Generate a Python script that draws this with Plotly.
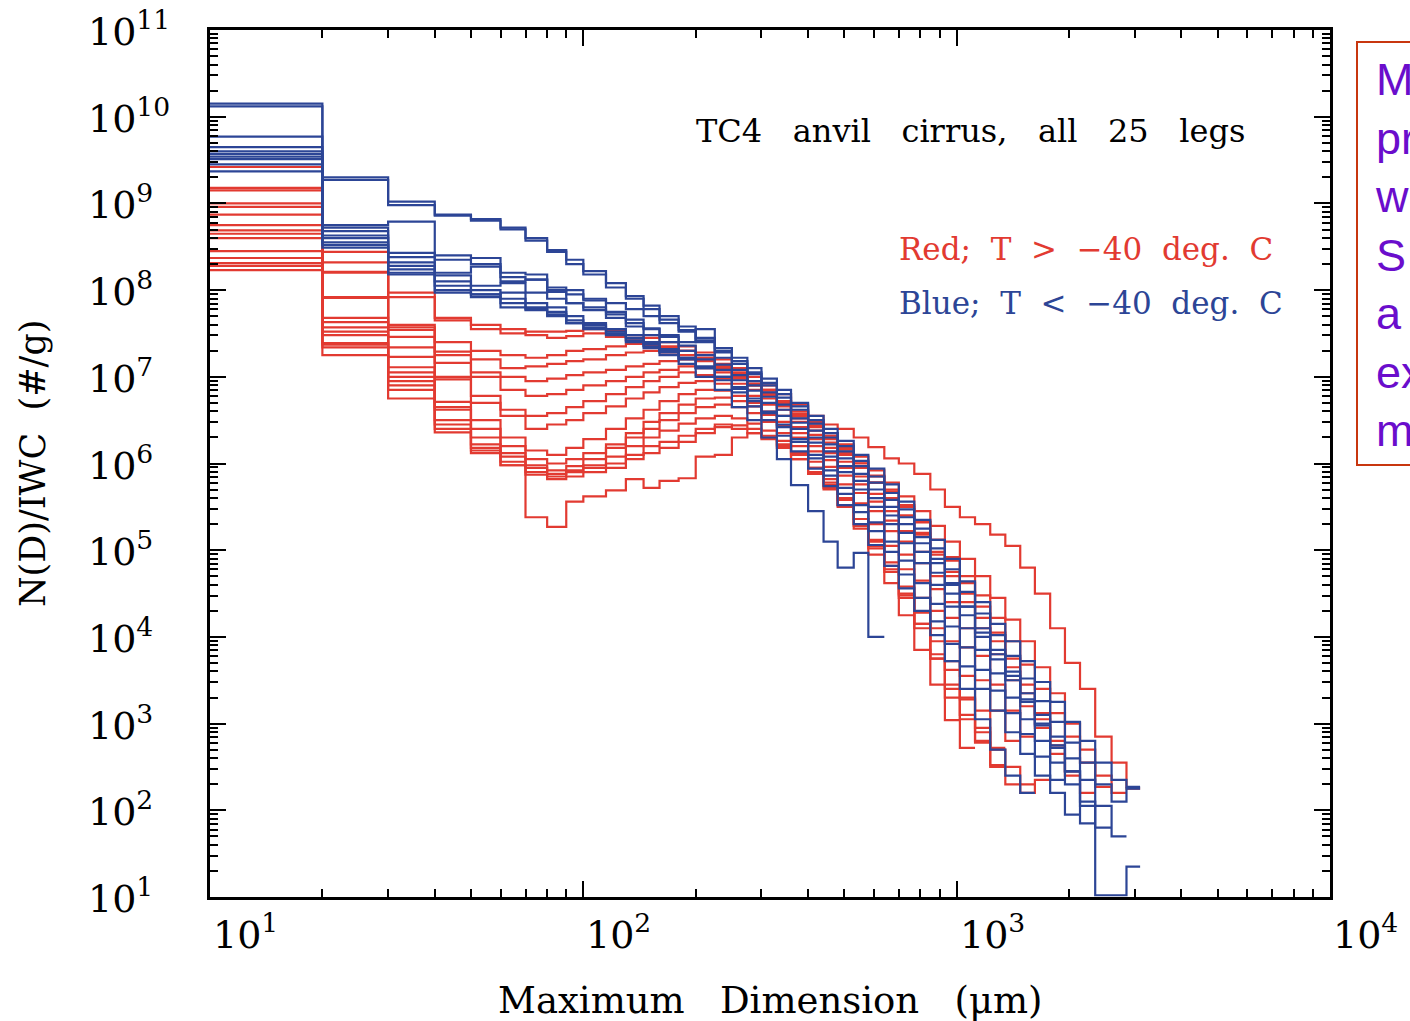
import plotly.graph_objects as go

# ---------------- data ----------------
# bin edges of the size distributions (micrometres)
edges_um = [10, 20, 30, 40, 50, 60, 70, 80, 90, 100, 115, 130, 145, 160, 180, 200,
            225, 250, 275, 300, 330, 360, 400, 440, 480, 530, 580, 640, 700, 770,
            850, 930, 1020, 1120, 1230, 1350, 1480, 1620, 1780, 1950, 2140, 2350,
            2600, 2850, 3100]

# log10 of N(D)/IWC (#/g) in each bin, one list per flight leg
# legs with T > -40 C (red)
red_01 = [9.42, 8.44, 7.97, 7.68, 7.55, 7.50, 7.52, 7.52, 7.53, 7.55, 7.53, 7.48, 7.45, 7.40, 7.35, 7.28, 7.20, 7.10, 7.00, 6.90, 6.80, 6.68, 6.55, 6.45, 6.40, 6.30, 6.19, 6.06, 6.00, 5.88, 5.70, 5.50, 5.38, 5.30, 5.18, 5.05, 4.80, 4.50, 4.10, 3.70, 3.40, 2.85, 2.55, 2.25]
red_02 = [9.18, 8.32, 7.92, 7.65, 7.60, 7.55, 7.48, 7.45, 7.47, 7.50, 7.46, 7.42, 7.38, 7.35, 7.30, 7.25, 7.15, 7.05, 6.95, 6.85, 6.72, 6.60, 6.48, 6.35, 6.22, 6.08, 5.92, 5.78, 5.62, 5.45, 5.28, 5.10, 4.90, 4.70, 4.45, 4.20, 3.95, 3.65, 3.35, 3.00, 2.70, 2.40, 2.20]
red_03 = [9.15, 8.21, 7.60, 7.40, 7.30, 7.25, 7.22, 7.25, 7.30, 7.32, 7.35, 7.38, 7.36, 7.34, 7.30, 7.22, 7.12, 7.02, 6.92, 6.82, 6.70, 6.57, 6.43, 6.30, 6.16, 6.00, 5.85, 5.68, 5.50, 5.32, 5.12, 4.92, 4.70, 4.48, 4.22, 3.95, 3.68, 3.40, 3.12, 2.85, 2.55, 2.27]
red_04 = [9.00, 8.20, 7.57, 7.29, 7.20, 7.10, 7.12, 7.15, 7.18, 7.20, 7.25, 7.28, 7.30, 7.28, 7.25, 7.20, 7.10, 7.00, 6.90, 6.78, 6.66, 6.52, 6.38, 6.24, 6.10, 5.95, 5.78, 5.60, 5.40, 5.20, 4.98, 4.75, 4.50, 4.22, 3.95, 3.65, 3.35, 3.05, 2.75, 2.45]
red_05 = [8.96, 7.92, 7.54, 7.25, 7.05, 7.00, 6.95, 6.98, 7.02, 7.05, 7.08, 7.12, 7.15, 7.18, 7.20, 7.18, 7.12, 7.04, 6.95, 6.85, 6.72, 6.60, 6.46, 6.32, 6.18, 6.02, 5.86, 5.70, 5.52, 5.33, 5.12, 4.88, 4.62, 4.35, 4.05, 3.75, 3.45, 3.12, 2.80]
red_06 = [8.87, 7.91, 7.46, 7.16, 7.00, 6.85, 6.78, 6.80, 6.85, 6.90, 6.95, 7.00, 7.05, 7.08, 7.12, 7.10, 7.05, 6.98, 6.90, 6.80, 6.68, 6.55, 6.42, 6.28, 6.12, 5.96, 5.78, 5.60, 5.40, 5.18, 4.95, 4.70, 4.40, 4.10, 3.80, 3.50, 3.20, 2.95, 2.65, 2.40, 2.20]
red_07 = [8.75, 7.68, 7.34, 7.00, 6.78, 6.62, 6.55, 6.58, 6.65, 6.72, 6.80, 6.88, 6.95, 7.00, 7.05, 7.02, 6.98, 6.92, 6.85, 6.75, 6.62, 6.48, 6.33, 6.18, 6.02, 5.85, 5.65, 5.45, 5.22, 4.98, 4.70, 4.40, 4.10, 3.78, 3.45, 3.15, 2.85]
red_08 = [8.69, 7.63, 7.23, 6.97, 6.70, 6.55, 6.40, 6.45, 6.50, 6.58, 6.66, 6.75, 6.82, 6.88, 6.93, 6.95, 6.92, 6.86, 6.78, 6.68, 6.55, 6.42, 6.28, 6.12, 5.95, 5.76, 5.56, 5.34, 5.10, 4.85, 4.55, 4.22, 3.88, 3.50, 3.15, 2.80]
red_09 = [8.65, 7.57, 7.11, 6.71, 6.50, 6.30, 6.15, 6.10, 6.18, 6.28, 6.40, 6.52, 6.62, 6.72, 6.80, 6.85, 6.84, 6.78, 6.70, 6.60, 6.48, 6.35, 6.20, 6.04, 5.86, 5.66, 5.45, 5.22, 4.95, 4.65, 4.30, 3.95, 3.55, 3.15, 2.72]
red_10 = [8.60, 7.52, 7.05, 6.65, 6.40, 6.20, 6.05, 6.00, 6.05, 6.12, 6.22, 6.35, 6.48, 6.58, 6.68, 6.75, 6.76, 6.72, 6.66, 6.56, 6.44, 6.30, 6.14, 5.96, 5.76, 5.54, 5.30, 5.05, 4.78, 4.45, 4.10, 3.72, 3.30, 2.90, 2.52]
red_11 = [8.45, 7.48, 7.00, 6.62, 6.30, 6.12, 5.98, 5.92, 5.97, 6.05, 6.18, 6.30, 6.40, 6.50, 6.58, 6.65, 6.68, 6.65, 6.58, 6.48, 6.35, 6.20, 6.02, 5.82, 5.60, 5.36, 5.10, 4.82, 4.50, 4.15, 3.75, 3.30, 2.72]
red_12 = [8.37, 7.39, 6.95, 6.50, 6.22, 6.08, 5.95, 5.88, 5.92, 5.98, 6.08, 6.20, 6.30, 6.38, 6.46, 6.52, 6.55, 6.52, 6.46, 6.38, 6.26, 6.12, 5.95, 5.75, 5.52, 5.25, 4.95, 4.62, 4.25, 3.85, 3.45, 3.04]
red_13 = [8.31, 7.37, 6.90, 6.45, 6.18, 6.02, 5.90, 5.85, 5.90, 5.95, 6.00, 6.10, 6.20, 6.25, 6.32, 6.40, 6.45, 6.44, 6.40, 6.32, 6.22, 6.10, 5.95, 5.78, 5.58, 5.36, 5.12, 4.86, 4.58, 4.28, 3.95, 3.62, 3.28, 2.95, 2.70, 2.50, 2.30]
red_14 = [8.28, 7.34, 6.85, 6.40, 6.12, 5.98, 5.87, 5.82, 5.85, 5.90, 5.95, 6.05, 6.12, 6.18, 6.25, 6.35, 6.42, 6.40, 6.35, 6.28, 6.18, 6.05, 5.90, 5.72, 5.52, 5.30, 5.05, 4.78, 4.48, 4.15, 3.80, 3.45, 3.10, 2.78, 2.50, 2.30, 2.20, 2.35]
red_15 = [8.23, 7.25, 6.75, 6.36, 6.15, 5.98, 5.38, 5.27, 5.56, 5.62, 5.69, 5.82, 5.72, 5.80, 5.83, 6.08, 6.10, 6.30, 6.35, 6.30, 6.20, 6.05, 5.88, 5.70, 5.50, 5.28, 5.02, 4.75, 4.45, 4.10, 3.75, 3.40, 3.05, 2.80]

# legs with T < -40 C (blue)
blue_01 = [10.15, 9.30, 9.02, 8.87, 8.82, 8.72, 8.60, 8.46, 8.35, 8.22, 8.08, 7.93, 7.82, 7.70, 7.58, 7.45, 7.33, 7.22, 7.10, 6.98, 6.85, 6.70, 6.55, 6.40, 6.26, 6.10, 5.94, 5.76, 5.56, 5.35, 5.12, 4.90, 4.64, 4.40, 4.15, 3.95, 3.72, 3.48, 3.25, 3.02, 2.80, 2.55, 2.35, 2.27]
blue_02 = [10.12, 9.27, 8.98, 8.86, 8.80, 8.70, 8.57, 8.44, 8.30, 8.18, 8.03, 7.90, 7.78, 7.66, 7.54, 7.40, 7.28, 7.15, 7.03, 6.90, 6.76, 6.62, 6.46, 6.30, 6.14, 5.97, 5.78, 5.58, 5.38, 5.15, 4.90, 4.62, 4.35, 4.05, 3.80, 3.55, 3.28, 3.00, 2.75, 2.45, 2.05, 1.02, 1.02, 1.35]
blue_03 = [9.77, 8.75, 8.79, 8.40, 8.37, 8.20, 8.18, 8.03, 8.00, 7.90, 7.85, 7.78, 7.70, 7.62, 7.52, 7.42, 7.30, 7.18, 7.05, 6.93, 6.80, 6.66, 6.50, 6.35, 6.20, 6.03, 5.85, 5.66, 5.47, 5.25, 5.02, 4.78, 4.52, 4.27, 4.02, 3.78, 3.52, 3.26, 3.02, 2.78, 2.55, 2.30, 2.10, 2.25]
blue_04 = [9.60, 8.72, 8.43, 8.35, 8.30, 8.15, 8.12, 7.98, 7.85, 7.80, 7.72, 7.62, 7.55, 7.48, 7.40, 7.55, 7.22, 7.08, 6.95, 6.82, 6.68, 6.52, 6.38, 6.22, 6.06, 5.88, 5.70, 5.50, 5.30, 5.08, 4.85, 4.60, 4.35, 4.10, 3.85, 3.60, 3.35, 3.10, 2.85, 2.60, 2.35, 2.05, 1.70]
blue_05 = [9.57, 8.68, 8.38, 8.20, 8.27, 8.10, 8.12, 8.00, 7.95, 7.88, 7.75, 7.66, 7.56, 7.46, 7.36, 7.25, 7.14, 7.02, 6.90, 6.77, 6.62, 6.47, 6.30, 6.14, 5.97, 5.80, 5.60, 5.40, 5.20, 4.98, 4.74, 4.50, 4.25, 4.00, 3.74, 3.50, 3.25, 2.98, 2.72, 2.45, 2.10, 1.80]
blue_06 = [9.54, 8.63, 8.32, 8.17, 8.05, 8.08, 7.97, 7.90, 7.85, 7.77, 7.68, 7.58, 7.48, 7.40, 7.30, 7.20, 7.08, 6.96, 6.84, 6.70, 6.55, 6.40, 6.24, 6.08, 5.90, 5.70, 5.50, 5.30, 5.08, 4.85, 4.60, 4.35, 4.10, 3.85, 3.58, 3.30, 3.05, 2.80, 2.55, 2.30, 1.85]
blue_07 = [9.51, 8.60, 8.28, 7.97, 7.95, 7.97, 7.80, 7.75, 7.62, 7.57, 7.50, 7.42, 7.35, 7.28, 7.20, 7.10, 7.00, 6.88, 6.75, 6.60, 6.45, 6.28, 6.10, 5.92, 5.72, 5.52, 5.32, 5.10, 4.88, 4.62, 4.38, 4.12, 3.88, 3.62, 3.38, 3.12, 2.88, 2.62, 2.35]
blue_08 = [9.45, 8.55, 8.24, 8.10, 7.92, 7.80, 7.77, 7.70, 7.65, 7.60, 7.52, 7.45, 7.38, 7.30, 7.22, 7.12, 7.00, 6.86, 6.72, 6.58, 6.42, 6.25, 6.06, 5.86, 5.65, 5.44, 5.22, 4.98, 4.72, 4.45, 4.18, 3.92, 3.66, 3.40, 3.15, 2.90, 2.65, 2.40, 2.20, 1.95]
blue_09 = [9.37, 8.52, 8.20, 8.05, 8.00, 7.90, 7.85, 7.80, 7.70, 7.62, 7.55, 7.48, 7.40, 7.32, 7.22, 7.10, 6.96, 6.82, 6.66, 6.50, 6.32, 6.14, 5.94, 5.74, 5.52, 5.30, 5.06, 4.82, 4.56, 4.30, 4.02, 3.72, 3.40, 3.05, 2.70, 2.40, 2.20]
blue_10 = [9.65, 8.49, 8.18, 8.00, 7.95, 7.85, 7.78, 7.72, 7.62, 7.55, 7.48, 7.40, 7.33, 7.25, 7.15, 7.00, 6.85, 6.65, 6.50, 6.30, 6.05, 5.75, 5.45, 5.10, 4.80, 4.97, 4.00]

red_legs = [red_01, red_02, red_03, red_04, red_05, red_06, red_07, red_08,
            red_09, red_10, red_11, red_12, red_13, red_14, red_15]
blue_legs = [blue_01, blue_02, blue_03, blue_04, blue_05, blue_06, blue_07,
             blue_08, blue_09, blue_10]

y_tick_exponents = [1, 2, 3, 4, 5, 6, 7, 8, 9, 10, 11]
x_tick_exponents = [1, 2, 3, 4]

NB3 = "\u00a0\u00a0 "
title_text = NB3.join(["TC4", "anvil", "cirrus,", "all", "25", "legs"])
red_text = "\u00a0 ".join(["Red;", "T", ">", "\u221240", "deg.", "C"])
blue_text = "\u00a0 ".join(["Blue;", "T", "<", "\u221240", "deg.", "C"])
x_title = NB3.join(["Maximum", "Dimension", "(\u03bcm)"])
y_title = "N(D)/IWC\u00a0 (#/g)"
side_lines = ["M", "pr", "w", "S", "a", "ex", "m"]

# ---------------- styling ----------------
RED = "#E23A31"
BLUE = "#2C4596"
SERIF = "DejaVu Serif"
W, H = 1410, 1021
ML, MR, MT, MB = 210, 80, 30, 124
PW, PH = W - ML - MR, H - MT - MB


def px_to_paper_x(px):
    return (px - ML) / PW


def px_to_paper_y(py):
    return 1 - (py - MT) / PH


fig = go.Figure()


def add_leg(vals, color):
    n = len(vals)
    xs = edges_um[:n + 1]
    ys = [10 ** v for v in vals] + [10 ** vals[-1]]
    fig.add_trace(go.Scatter(x=xs, y=ys, mode="lines",
                             line=dict(color=color, width=2.2, shape="hv"),
                             showlegend=False, hoverinfo="skip"))


for leg in red_legs:
    add_leg(leg, RED)
for leg in blue_legs:
    add_leg(leg, BLUE)

x_minor = [m * 10 ** e for e in range(1, 4) for m in range(2, 10)]
y_minor = [m * 10 ** e for e in range(1, 11) for m in range(2, 10)]

axis_common = dict(type="log", showline=True, linecolor="black", linewidth=2.5,
                   mirror="allticks", ticks="inside", ticklen=16, tickwidth=2,
                   tickcolor="black", showticklabels=False, showgrid=False,
                   zeroline=False)

fig.update_xaxes(range=[1, 4], tickvals=[10 ** e for e in x_tick_exponents],
                 minor=dict(ticks="inside", ticklen=8, tickwidth=1.5,
                            tickcolor="black", tickvals=x_minor, showgrid=False),
                 **axis_common)
fig.update_yaxes(range=[1, 11], tickvals=[10 ** e for e in y_tick_exponents],
                 minor=dict(ticks="inside", ticklen=8, tickwidth=1.5,
                            tickcolor="black", tickvals=y_minor, showgrid=False),
                 **axis_common)

ann = []
# y tick labels (left aligned, as in the original)
for e in y_tick_exponents:
    ann.append(dict(text=f"10<sup>{e}</sup>", xref="paper", yref="y",
                    x=px_to_paper_x(86), y=e, xanchor="left", yanchor="middle",
                    yshift=1, showarrow=False,
                    font=dict(family=SERIF, size=38, color="black")))
# x tick labels (start at the tick)
for e in x_tick_exponents:
    ann.append(dict(text=f"10<sup>{e}</sup>", xref="x", yref="paper",
                    x=e, y=px_to_paper_y(932), xanchor="left", yanchor="middle",
                    xshift=1, showarrow=False,
                    font=dict(family=SERIF, size=38, color="black")))

ann.append(dict(text=title_text, xref="paper", yref="paper",
                x=px_to_paper_x(694), y=px_to_paper_y(131), xanchor="left",
                yanchor="middle", showarrow=False,
                font=dict(family=SERIF, size=32, color="black")))
ann.append(dict(text=red_text, xref="paper", yref="paper",
                x=px_to_paper_x(897), y=px_to_paper_y(249), xanchor="left",
                yanchor="middle", showarrow=False,
                font=dict(family=SERIF, size=31, color=RED)))
ann.append(dict(text=blue_text, xref="paper", yref="paper",
                x=px_to_paper_x(897), y=px_to_paper_y(303), xanchor="left",
                yanchor="middle", showarrow=False,
                font=dict(family=SERIF, size=31, color=BLUE)))
ann.append(dict(text=x_title, xref="paper", yref="paper",
                x=px_to_paper_x(770), y=px_to_paper_y(1000), xanchor="center",
                yanchor="middle", showarrow=False,
                font=dict(family=SERIF, size=37, color="black")))
ann.append(dict(text=y_title, xref="paper", yref="paper",
                x=px_to_paper_x(33), y=px_to_paper_y(464), xanchor="center",
                yanchor="middle", textangle=-90, showarrow=False,
                font=dict(family=SERIF, size=35, color="black")))
# clipped side text box
ann.append(dict(text="<br>".join(side_lines), xref="paper", yref="paper",
                x=px_to_paper_x(1373), y=px_to_paper_y(52), xanchor="left",
                yanchor="top", align="left", showarrow=False,
                font=dict(family="Liberation Sans", size=45, color="#6A0DCC")))

fig.update_layout(
    width=W, height=H, autosize=False,
    margin=dict(l=ML, r=MR, t=MT, b=MB),
    plot_bgcolor="white", paper_bgcolor="white",
    annotations=ann,
    shapes=[dict(type="rect", xref="paper", yref="paper",
                 x0=px_to_paper_x(1357), x1=px_to_paper_x(1440),
                 y0=px_to_paper_y(465), y1=px_to_paper_y(42),
                 line=dict(color="#C8360F", width=2), fillcolor="rgba(0,0,0,0)")],
)

fig.write_html("out.html")
